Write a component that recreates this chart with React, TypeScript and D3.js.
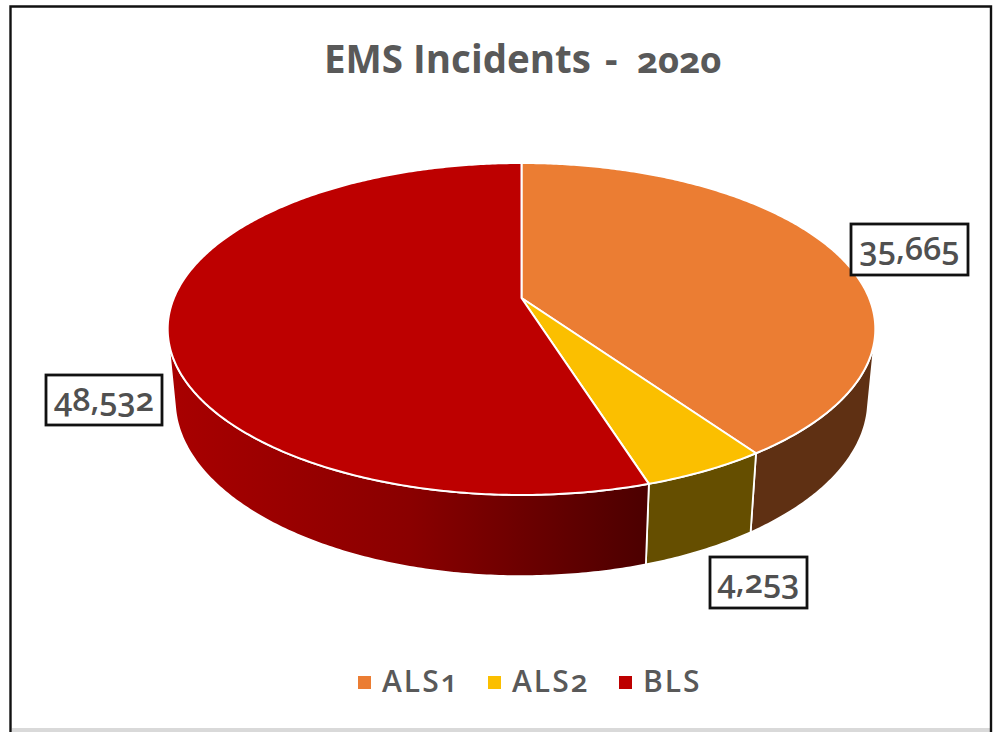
import React from 'react';
import * as d3 from 'd3';

const categories = ['ALS1', 'ALS2', 'BLS'];
const incidents = [35665, 4253, 48532];
const valueLabels = ['35,665', '4,253', '48,532'];
const topColors = ['#eb7d33', '#fbbf00', '#bd0000'];
const sideColors = ['#5f3013', '#654e00', 'url(#blsSide)'];
const chartTitle = 'EMS Incidents';
const chartDash = '-';
const chartYear = '2020';

const labelBoxes = [
  { x: 851, y: 224, w: 117, h: 51 },
  { x: 710, y: 557, w: 97, h: 51 },
  { x: 46, y: 375, w: 116, h: 50 },
];
const legendX = [358, 488, 619];

// perspective camera fitted to the picture
const CX = 521.5;
const CY = 298;
const A = 347.6;
const B = 160.2;
const K = 0.1867;
const DROP_W = 0.02;
const DROP_Y = 71.6;

const FONT = "'Open Sans', 'Noto Sans', sans-serif";

type P = [number, number];
const project = (t: number, drop: boolean): P => {
  const X = Math.sin(t);
  const Y = -Math.cos(t);
  const w = 1 - K * Y + (drop ? DROP_W : 0);
  return [CX + (A * X) / w, CY + (B * Y + (drop ? DROP_Y : 0)) / w];
};

const line = d3.line<P>().x((d) => d[0]).y((d) => d[1]);
const pie = d3.pie<number>().sort(null).startAngle(0).endAngle(2 * Math.PI);
const arcs = pie(incidents);

const thetas = (a0: number, a1: number) => {
  const n = Math.max(2, Math.ceil((a1 - a0) / 0.01));
  return d3.range(n + 1).map((i) => a0 + ((a1 - a0) * i) / n);
};

const topPath = (a0: number, a1: number) =>
  line([[CX, CY], ...thetas(a0, a1).map((t) => project(t, false))]) + 'Z';

const facesViewer = (t0: number, t1: number) => {
  const q = [project(t0, false), project(t1, false), project(t1, true), project(t0, true)];
  return d3.polygonArea(q) > 0;
};

const sidePath = (a0: number, a1: number) => {
  const ts = thetas(a0, a1);
  const vis = ts.filter((t, i) => {
    const next = i < ts.length - 1 ? ts[i + 1] : t;
    const prev = i > 0 ? ts[i - 1] : t;
    return facesViewer(Math.min(t, prev === t ? t : prev), Math.max(t, next === t ? t : next));
  });
  if (vis.length < 2) return null;
  const pts = [...vis.map((t) => project(t, false)), ...[...vis].reverse().map((t) => project(t, true))];
  return line(pts) + 'Z';
};

const numStyle: React.CSSProperties = { fontFeatureSettings: "'onum' 1", fontVariantNumeric: 'oldstyle-nums' };

export default function App() {
  return (
    <svg
      width={994}
      height={732}
      viewBox="0 0 994 732"
      style={{ position: 'fixed', left: 0, top: 0, display: 'block', background: '#fff' }}
    >
      <defs>
        <linearGradient id="blsSide" gradientUnits="userSpaceOnUse" x1={172} x2={646} y1={0} y2={0}>
          <stop offset="0" stopColor="#a80000" />
          <stop offset="0.5" stopColor="#8a0000" />
          <stop offset="1" stopColor="#4c0000" />
        </linearGradient>
      </defs>

      <rect x={12} y={728} width={978} height={4} fill="#d9d9d9" />
      <path d="M10.5,732V6.5H991V732" fill="none" stroke="#111" strokeWidth={2.4} />

      <text x={324} y={73} fill="#595959" fontFamily={FONT} fontWeight={700} fontSize={38.5}>
        {chartTitle}
      </text>
      <text x={605} y={73} fill="#595959" fontFamily={FONT} fontWeight={700} fontSize={39}>
        {chartDash}
      </text>
      <text x={637} y={73} fill="#595959" fontFamily={FONT} fontWeight={700} fontSize={36.5} style={numStyle}>
        {chartYear}
      </text>

      {arcs.map((a, i) => {
        const d = sidePath(a.startAngle, a.endAngle);
        return d ? <path key={i} d={d} fill={sideColors[i]} stroke="#fff" strokeWidth={1.8} strokeLinejoin="round" /> : null;
      })}
      {arcs.map((a, i) => (
        <path
          key={i}
          d={topPath(a.startAngle, a.endAngle)}
          fill={topColors[i]}
          stroke="#fff"
          strokeWidth={2}
          strokeLinejoin="round"
        />
      ))}

      {labelBoxes.map((b, i) => (
        <g key={i}>
          <rect x={b.x} y={b.y} width={b.w} height={b.h} fill="#fff" stroke="#111" strokeWidth={2.8} />
          <text
            x={b.x + b.w / 2}
            y={b.y + 36}
            textAnchor="middle"
            fill="#505050"
            fontFamily={FONT}
            fontWeight={600}
            fontSize={32.5}
            style={numStyle}
          >
            {valueLabels[i]}
          </text>
        </g>
      ))}

      {categories.map((c, i) => (
        <g key={c}>
          <rect x={legendX[i]} y={676} width={13} height={13} fill={topColors[i]} />
          <text
            x={legendX[i] + 24}
            y={692}
            fill="#595959"
            fontFamily={FONT}
            fontWeight={600}
            fontSize={30}
            letterSpacing={2}
            style={numStyle}
          >
            {c}
          </text>
        </g>
      ))}
    </svg>
  );
}
